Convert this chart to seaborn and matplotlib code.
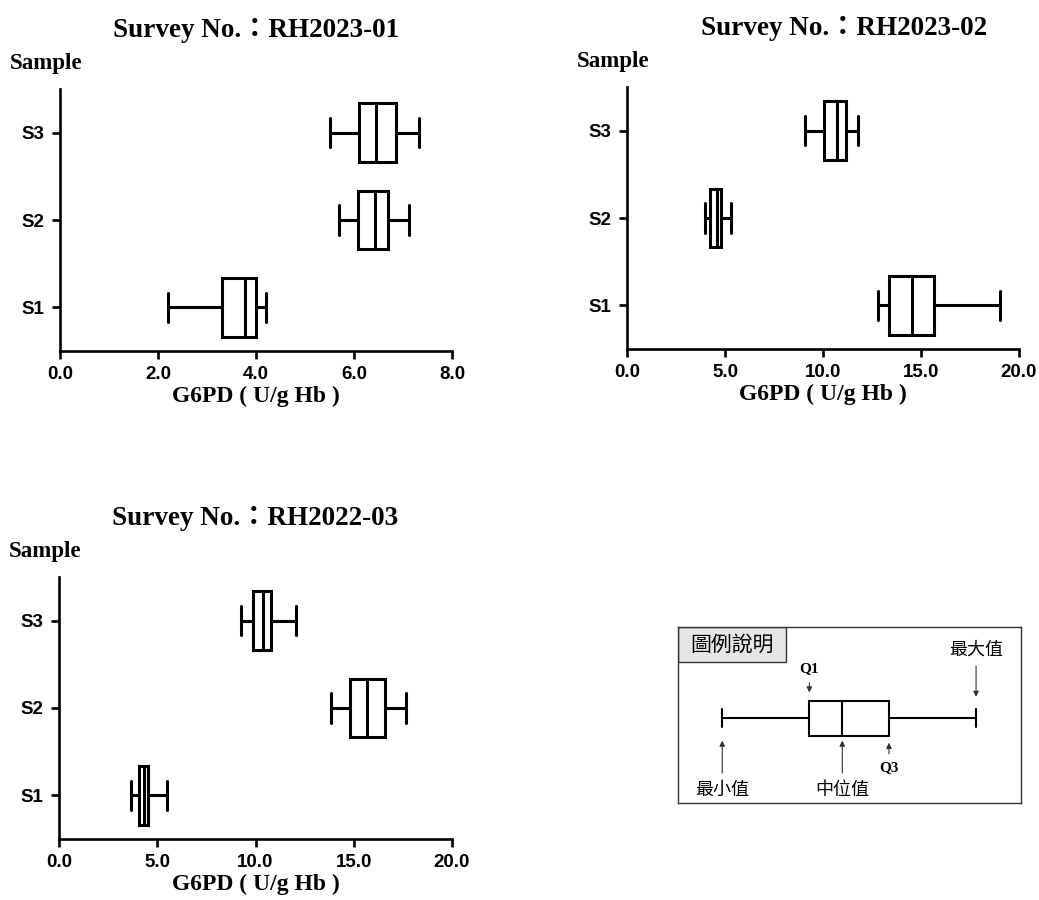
import numpy as np
import pandas as pd
import matplotlib.pyplot as plt
import seaborn as sns
from matplotlib.patches import Rectangle
from matplotlib.ticker import FormatStrFormatter

# ---------- data: five-number summaries (min, Q1, median, Q3, max) ----------
SAMPLES = ['S1', 'S2', 'S3']

rh2023_01 = [[2.20, 3.30, 3.77, 4.00, 4.20],   # S1
             [5.70, 6.08, 6.42, 6.70, 7.12],   # S2
             [5.51, 6.10, 6.44, 6.85, 7.32]]   # S3

rh2023_02 = [[12.83, 13.37, 14.53, 15.68, 19.03],
             [3.96, 4.21, 4.59, 4.79, 5.30],
             [9.06, 10.03, 10.71, 11.15, 11.81]]

rh2022_03 = [[3.67, 4.09, 4.31, 4.52, 5.52],
             [13.84, 14.82, 15.67, 16.59, 17.67],
             [9.25, 9.85, 10.36, 10.80, 12.05]]

TITLES = ['Survey No.\uff1aRH2023-01', 'Survey No.\uff1aRH2023-02', 'Survey No.\uff1aRH2022-03']
XMAX = [8, 20, 20]
XSTEP = [2, 5, 5]

# schematic box for the explanation panel (0-100 scale)
legend_five = [12.9, 38.3, 47.9, 61.5, 86.9]
legend_labels = ['最小值', 'Q1', '中位值', 'Q3', '最大值']

SERIF = ['Liberation Serif', 'Noto Sans CJK TC']
SANS = ['Liberation Sans', 'DejaVu Sans']
CJK = ['Noto Sans CJK TC', 'DejaVu Sans']

sns.set_style('ticks')
plt.rcParams['font.family'] = SANS
plt.rcParams['text.color'] = 'black'
plt.rcParams['axes.labelcolor'] = 'black'

W, H = 1039, 900
fig = plt.figure(figsize=(W / 100, H / 100), dpi=100)


def px_axes(left, top, right, bottom):
    return fig.add_axes([left / W, 1 - bottom / H, (right - left) / W, (bottom - top) / H])


def draw_panel(ax, five, title, xmax, step, title_x=0.5):
    df = pd.DataFrame({'sample': np.repeat(SAMPLES, 5),
                       'value': np.concatenate(five)})
    sns.boxplot(data=df, x='value', y='sample', order=SAMPLES[::-1], orient='h',
                whis=(0, 100), width=0.67, color='white', linecolor='black',
                linewidth=2.2, ax=ax)
    ax.set_xlim(0, xmax)
    ax.set_xticks(np.arange(0, xmax + step / 2, step))
    ax.xaxis.set_major_formatter(FormatStrFormatter('%.1f'))
    sns.despine(ax=ax)
    for side in ['left', 'bottom']:
        ax.spines[side].set_linewidth(1.9)
        ax.spines[side].set_color('black')
    ax.tick_params(width=1.9, length=6, pad=5, labelsize=13.5, colors='black')
    for lab in ax.get_xticklabels() + ax.get_yticklabels():
        lab.set_fontweight('bold')
        lab.set_family(SANS)
    ax.set_ylabel('')
    ax.set_xlabel('G6PD ( U/g Hb )', family=SERIF, fontsize=17, fontweight='bold',
                  labelpad=2)
    ax.text(title_x, 1.2, title, transform=ax.transAxes, ha='center', va='baseline',
            family=SERIF, fontsize=19.5, fontweight='bold')
    ax.text(-0.128, 1.075, 'Sample', transform=ax.transAxes, ha='left', va='baseline',
            family=SERIF, fontsize=16.5, fontweight='bold')


ax1 = px_axes(60, 89, 452, 351)
ax2 = px_axes(627, 87, 1019, 349)
ax3 = px_axes(59, 577, 452, 839)

draw_panel(ax1, rh2023_01, TITLES[0], XMAX[0], XSTEP[0])
draw_panel(ax2, rh2023_02, TITLES[1], XMAX[1], XSTEP[1], title_x=0.553)
draw_panel(ax3, rh2022_03, TITLES[2], XMAX[2], XSTEP[2])

# ---------- explanation box ----------
lax = px_axes(678, 627, 1021, 803)
sns.boxplot(x=legend_five, orient='h', whis=(0, 100), width=0.8, color='white',
            linecolor='black', linewidth=1.5, ax=lax)
lax.set_xlim(0, 100)
lax.set_ylim(1.94, -2.08)
lax.set_xticks([])
lax.set_yticks([])
lax.set_xlabel('')
for sp in lax.spines.values():
    sp.set_visible(True)
    sp.set_linewidth(1.0)
    sp.set_color('#333333')

lax.add_patch(Rectangle((0, 0.799), 0.3146, 0.201, transform=lax.transAxes,
                        facecolor='#e6e6e6', edgecolor='#333333', lw=1.0))
lax.text(0.157, 0.90, '圖例說明', transform=lax.transAxes, ha='center', va='center',
         family=CJK, fontsize=15)

arrow = dict(arrowstyle='-|>', color='#333333', lw=0.8, mutation_scale=8,
             shrinkA=3, shrinkB=2)
# (text y in axes fraction, arrow tip y in data)
label_pos = [(0.076, 0.45), (0.763, -0.52), (0.076, 0.45), (0.20, 0.5), (0.871, -0.42)]
for val, lab, (ty, tip) in zip(legend_five, legend_labels, label_pos):
    is_q = lab.startswith('Q')
    lax.annotate(lab, xy=(val, tip), xycoords='data',
                 xytext=(val, ty), textcoords=('data', 'axes fraction'),
                 ha='center', va='center',
                 family=SERIF if is_q else CJK,
                 fontsize=11 if is_q else 13,
                 fontweight='bold' if is_q else 'normal',
                 arrowprops=arrow)

fig.savefig('out.png', dpi=100)
